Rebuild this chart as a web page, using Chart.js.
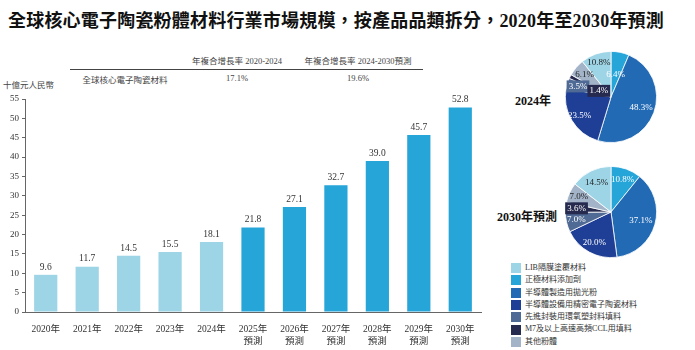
<!DOCTYPE html>
<html>
<head>
<meta charset="utf-8">
<script src="https://cdn.jsdelivr.net/npm/chart.js@4/dist/chart.umd.min.js"></script>
<style>
  body { margin: 0; width: 695px; height: 350px; background: #fff; position: relative; overflow: hidden;
         font-family: "Liberation Serif", "Noto Sans CJK TC", serif; color: #333; }
  .abs { position: absolute; white-space: nowrap; }
  #title { left: 8px; top: 6px; font-size: 18px; font-weight: bold; color: #111;
           font-family: "Liberation Serif", "Noto Sans CJK TC", sans-serif; letter-spacing: 0.2px; }
  .small { font-size: 8.5px; color: #444; }
  .c { transform: translateX(-50%); }
  #rule { left: 70px; top: 69px; width: 353px; height: 1px; background: #444; }
  .pielbl { font-size: 12px; font-weight: bold; color: #111; }
  #legend { left: 511px; top: 262px; font-size: 8px; color: #333; }
  #legend div { height: 12.3px; line-height: 11px; }
  #legend span { display: inline-block; width: 10px; height: 10px; vertical-align: middle; margin-right: 4px; }
</style>
</head>
<body>
<div id="title" class="abs">全球核心電子陶瓷粉體材料行業市場規模，按產品品類拆分，2020年至2030年預測</div>

<div class="abs small c" style="left:237px; top:54px;">年複合增長率 2020-2024</div>
<div class="abs small c" style="left:358px; top:54px;">年複合增長率 2024-2030預測</div>
<div id="rule" class="abs"></div>
<div class="abs small c" style="left:125px; top:73px;">全球核心電子陶瓷材料</div>
<div class="abs small c" style="left:237px; top:73px;">17.1%</div>
<div class="abs small c" style="left:358px; top:73px;">19.6%</div>
<div class="abs small" style="left:3px; top:78px;">十億元人民幣</div>

<canvas id="bar" class="abs" style="left:0; top:88px;"></canvas>

<div class="abs pielbl" style="left:515px; top:91px;">2024年</div>
<div class="abs pielbl" style="left:497px; top:207px;">2030年預測</div>
<canvas id="pie2024" class="abs" style="left:563px; top:49px;"></canvas>
<canvas id="pie2030" class="abs" style="left:563px; top:164px;"></canvas>

<div id="legend" class="abs"></div>

<script>
// bar chart data (十億元人民幣)
const years = [['2020年'], ['2021年'], ['2022年'], ['2023年'], ['2024年'],
  ['2025年', '預測'], ['2026年', '預測'], ['2027年', '預測'], ['2028年', '預測'], ['2029年', '預測'], ['2030年', '預測']];
const marketSize = [9.6, 11.7, 14.5, 15.5, 18.1, 21.8, 27.1, 32.7, 39.0, 45.7, 52.8];
const yTicks = [0, 5, 10, 15, 20, 25, 30, 35, 40, 45, 50, 55];

// pie data (%), drawn clockwise from 12 o'clock in this order
const categories = ['正極材料添加劑', '半導體製造用拋光粉', '半導體設備用精密電子陶瓷材料',
  '先進封裝用環氧塑封料填料', 'M7及以上高速高頻CCL用填料', '其他粉體', 'LIB隔膜塗覆材料'];
const share2024 = [6.4, 48.3, 23.5, 3.5, 1.4, 6.1, 10.8];
const share2030 = [10.8, 37.1, 20.0, 7.0, 3.6, 7.0, 14.5];

// legend order
const legendOrder = ['LIB隔膜塗覆材料', '正極材料添加劑', '半導體製造用拋光粉', '半導體設備用精密電子陶瓷材料',
  '先進封裝用環氧塑封料填料', 'M7及以上高速高頻CCL用填料', '其他粉體'];

const catColors = {
  'LIB隔膜塗覆材料': '#9dd4e6',
  '正極材料添加劑': '#26a5d9',
  '半導體製造用拋光粉': '#236ab5',
  '半導體設備用精密電子陶瓷材料': '#1f3f96',
  '先進封裝用環氧塑封料填料': '#4f6a94',
  'M7及以上高速高頻CCL用填料': '#262a4f',
  '其他粉體': '#a3b4c9'
};
const darkText = ['LIB隔膜塗覆材料', '其他粉體'];

const serif = '"Liberation Serif", "Noto Sans CJK TC", serif';

// value labels above bars
const barLabels = {
  id: 'barLabels',
  afterDatasetsDraw(chart) {
    const ctx = chart.ctx;
    const meta = chart.getDatasetMeta(0);
    ctx.save();
    ctx.font = '9.5px ' + serif;
    ctx.fillStyle = '#333';
    ctx.textAlign = 'center';
    ctx.textBaseline = 'bottom';
    meta.data.forEach((bar, i) => {
      ctx.fillText(marketSize[i].toFixed(1), bar.x, bar.y - 3);
    });
    ctx.restore();
  }
};

const barCanvas = document.getElementById('bar');
barCanvas.width = 490;
barCanvas.height = 262;
new Chart(barCanvas, {
  type: 'bar',
  data: {
    labels: years,
    datasets: [{
      data: marketSize,
      backgroundColor: marketSize.map((v, i) => i < 5 ? '#9dd4e6' : '#26a5d9'),
      borderWidth: 0,
      categoryPercentage: 1,
      barPercentage: 0.56
    }]
  },
  options: {
    responsive: false,
    animation: false,
    devicePixelRatio: 1,
    layout: { padding: { top: 11, right: 9, left: 0, bottom: 0 } },
    plugins: { legend: { display: false }, tooltip: { enabled: false } },
    scales: {
      x: {
        grid: { display: false },
        border: { display: true, color: '#666', width: 1 },
        ticks: { color: '#333', font: { family: serif, size: 9.5 }, padding: 4, maxRotation: 0, autoSkip: false },
        afterFit: (s) => { s.height = 38; }
      },
      y: {
        min: 0, max: 55,
        afterBuildTicks: (s) => { s.ticks = yTicks.map(v => ({ value: v })); },
        grid: { drawOnChartArea: false, drawTicks: true, tickLength: 3, color: '#666' },
        border: { display: true, color: '#666', width: 1 },
        ticks: { color: '#333', font: { family: serif, size: 9 }, padding: 3 },
        afterFit: (s) => { s.width = 25; }
      }
    }
  },
  plugins: [barLabels]
});

// percentage labels inside pie slices
const pieLabels = {
  id: 'pieLabels',
  afterDatasetsDraw(chart, args, opts) {
    const ctx = chart.ctx;
    const meta = chart.getDatasetMeta(0);
    const values = chart.data.datasets[0].data;
    ctx.save();
    ctx.font = '9px ' + serif;
    ctx.textAlign = 'center';
    ctx.textBaseline = 'middle';
    meta.data.forEach((arc, i) => {
      const mid = (arc.startAngle + arc.endAngle) / 2;
      const r = arc.outerRadius * opts.radius[i];
      const x = arc.x + Math.cos(mid) * r;
      const y = arc.y + Math.sin(mid) * r;
      const txt = values[i].toFixed(1) + '%';
      const cat = categories[i];
      if (opts.boxed.includes(i)) {
        const w = ctx.measureText(txt).width + 4;
        ctx.fillStyle = catColors[cat];
        ctx.fillRect(x - w / 2, y - 6, w, 12);
      }
      ctx.fillStyle = darkText.includes(cat) ? '#222' : '#fff';
      ctx.fillText(txt, x, y);
    });
    ctx.restore();
  }
};

function makePie(id, shares, radius, boxed) {
  const c = document.getElementById(id);
  c.width = 96; c.height = 96;
  new Chart(c, {
    type: 'pie',
    data: {
      labels: categories,
      datasets: [{
        data: shares,
        backgroundColor: categories.map(k => catColors[k]),
        borderColor: '#fff',
        borderWidth: 0.8
      }]
    },
    options: {
      responsive: false,
      animation: false,
      devicePixelRatio: 1,
      layout: { padding: 2 },
      plugins: {
        legend: { display: false },
        tooltip: { enabled: false },
        pieLabels: { radius: radius, boxed: boxed }
      }
    },
    plugins: [pieLabels]
  });
}

makePie('pie2024', share2024, [0.5, 0.7, 0.8, 0.76, 0.3, 0.76, 0.8], [3, 4]);
makePie('pie2030', share2030, [0.76, 0.68, 0.76, 0.78, 0.76, 0.78, 0.72], [4]);

// legend
const lg = document.getElementById('legend');
legendOrder.forEach(k => {
  const d = document.createElement('div');
  d.innerHTML = '<span style="background:' + catColors[k] + '"></span>' + k;
  lg.appendChild(d);
});
</script>
</body>
</html>
